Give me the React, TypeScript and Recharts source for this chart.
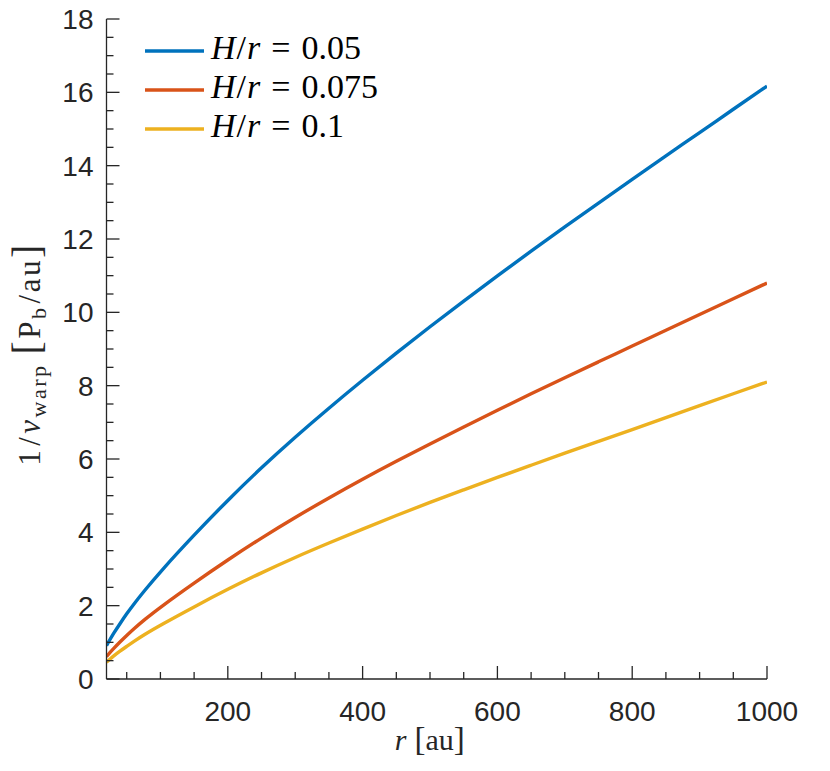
import { LineChart, Line, XAxis, YAxis, Legend } from "recharts";

// r [au]
const radius = [20, 25, 30, 40, 50, 60, 75, 100, 150, 200, 250, 300, 350, 400, 450, 500, 550, 600, 650, 700, 750, 800, 850, 900, 950, 1000];
// 1/v_warp [Pb/au]
const thin = [0.91, 1.07, 1.23, 1.51, 1.78, 2.03, 2.38, 2.93, 3.93, 4.88, 5.77, 6.6, 7.39, 8.15, 8.89, 9.61, 10.31, 11.0, 11.67, 12.33, 12.98, 13.63, 14.27, 14.9, 15.54, 16.17];
const medium = [0.61, 0.72, 0.82, 1.01, 1.19, 1.36, 1.6, 1.96, 2.62, 3.25, 3.85, 4.41, 4.94, 5.45, 5.94, 6.41, 6.87, 7.33, 7.78, 8.22, 8.65, 9.08, 9.51, 9.94, 10.37, 10.8];
const thick = [0.46, 0.54, 0.62, 0.76, 0.89, 1.02, 1.2, 1.47, 1.97, 2.45, 2.9, 3.32, 3.71, 4.09, 4.46, 4.82, 5.16, 5.5, 5.83, 6.16, 6.48, 6.8, 7.13, 7.46, 7.78, 8.1];

const aspect = ["0.05", "0.075", "0.1"];
const colors = ["#0072BD", "#D95319", "#EDB120"];

const xMajor = [200, 400, 600, 800, 1000];
const xTicks = [50, 100, 150, 200, 250, 300, 350, 400, 450, 500, 550, 600, 650, 700, 750, 800, 850, 900, 950, 1000];
const yMajor = [0, 2, 4, 6, 8, 10, 12, 14, 16, 18];
const yTicks = [
  0, 0.5, 1, 1.5, 2, 2.5, 3, 3.5, 4, 4.5, 5, 5.5, 6, 6.5, 7, 7.5, 8, 8.5, 9,
  9.5, 10, 10.5, 11, 11.5, 12, 12.5, 13, 13.5, 14, 14.5, 15, 15.5, 16, 16.5,
  17, 17.5, 18,
];

const rows = radius.map((r, i) => ({ r, a: thin[i], b: medium[i], c: thick[i] }));
const keys = ["a", "b", "c"];

const AXIS = "#262626";
const SANS = "'Liberation Sans', Arial, sans-serif";
const SERIF = "'Liberation Serif', 'Times New Roman', serif";
const MAJOR = 13;
const MINOR = 7;

const BottomTick = ({ x, y, payload }: any) => {
  const major = xMajor.includes(payload.value);
  return (
    <g>
      <line x1={x} x2={x} y1={y} y2={y - (major ? MAJOR : MINOR)} stroke={AXIS} strokeWidth={1.3} />
      {major && (
        <text x={x} y={y + 42} textAnchor="middle" fontFamily={SANS} fontSize={28} fill={AXIS}>
          {payload.value}
        </text>
      )}
    </g>
  );
};

const TopTick = ({ x, y, payload }: any) => {
  const major = xMajor.includes(payload.value);
  return <line x1={x} x2={x} y1={y} y2={y + (major ? MAJOR : MINOR)} stroke={AXIS} strokeWidth={1.3} />;
};

const LeftTick = ({ x, y, payload }: any) => {
  const major = yMajor.includes(payload.value);
  return (
    <g>
      <line x1={x} x2={x + (major ? MAJOR : MINOR)} y1={y} y2={y} stroke={AXIS} strokeWidth={1.3} />
      {major && (
        <text x={x - 13} y={y + 10} textAnchor="end" fontFamily={SANS} fontSize={28} fill={AXIS}>
          {payload.value}
        </text>
      )}
    </g>
  );
};

const RightTick = ({ x, y, payload }: any) => {
  const major = yMajor.includes(payload.value);
  return <line x1={x} x2={x - (major ? MAJOR : MINOR)} y1={y} y2={y} stroke={AXIS} strokeWidth={1.3} />;
};

const XLabel = ({ viewBox }: any) => {
  const cx = viewBox.x + viewBox.width / 2 - 7;
  return (
    <text x={cx} y={viewBox.y + 71} textAnchor="middle" fontFamily={SERIF} fontSize={30} fill={AXIS}>
      <tspan fontStyle="italic">r</tspan>
      <tspan dx={8} fontSize={33}>[</tspan>
      <tspan>au</tspan>
      <tspan fontSize={33}>]</tspan>
    </text>
  );
};

const YLabel = ({ viewBox }: any) => {
  const cx = viewBox.x - 7;
  const cy = viewBox.y + viewBox.height / 2 + 5;
  return (
    <text
      x={cx}
      y={cy}
      transform={`rotate(-90 ${cx} ${cy})`}
      textAnchor="middle"
      fontFamily={SERIF}
      fontSize={31}
      letterSpacing={2.5}
      fill={AXIS}
    >
      <tspan>1</tspan>
      <tspan dx={2}>/</tspan>
      <tspan dx={1} fontStyle="italic">v</tspan>
      <tspan fontSize={22} dy={6}>warp</tspan>
      <tspan dy={-6} dx={9} fontSize={40}>[</tspan>
      <tspan>P</tspan>
      <tspan fontSize={22} dy={6}>b</tspan>
      <tspan dy={-6} dx={2}>/au</tspan>
      <tspan fontSize={40}>]</tspan>
    </text>
  );
};

const renderLegend = ({ payload }: any) => (
  <svg width={420} height={150}>
    {(payload || []).map((entry: any, i: number) => {
      const yc = 51 + i * 39;
      const value = String(entry.value).split(" = ")[1];
      return (
        <g key={i}>
          <line x1={145} x2={204} y1={yc} y2={yc} stroke={entry.color} strokeWidth={3.4} />
          <text x={211} y={yc + 7.5} fontFamily={SERIF} fontSize={34} fill="#000">
            <tspan fontStyle="italic">H</tspan>
            <tspan dx={1}>/</tspan>
            <tspan dx={1} fontStyle="italic">r</tspan>
            <tspan dx={11}>=</tspan>
            <tspan dx={11}>{value}</tspan>
          </text>
        </g>
      );
    })}
  </svg>
);

export default function App() {
  return (
    <div style={{ width: 830, height: 771, background: "#fff" }}>
      <style>{"body{margin:0;background:#fff}"}</style>
      <LineChart width={830} height={771} data={rows} margin={{ top: 19, right: 63, bottom: 0, left: 46.5 }}>
        <XAxis
          xAxisId="bottom"
          dataKey="r"
          type="number"
          domain={[20, 1000]}
          allowDataOverflow
          ticks={xTicks}
          interval={0}
          height={92}
          tickSize={0}
          tickMargin={0}
          tick={<BottomTick />}
          axisLine={{ stroke: AXIS, strokeWidth: 1.3 }}
          label={<XLabel />}
        />
        <XAxis
          xAxisId="top"
          orientation="top"
          dataKey="r"
          type="number"
          domain={[20, 1000]}
          allowDataOverflow
          ticks={xTicks}
          interval={0}
          height={0}
          tickSize={0}
          tickMargin={0}
          tick={<TopTick />}
          axisLine={{ stroke: AXIS, strokeWidth: 1.3 }}
        />
        <YAxis
          yAxisId="left"
          type="number"
          domain={[0, 18]}
          allowDataOverflow
          ticks={yTicks}
          interval={0}
          width={60}
          tickSize={0}
          tickMargin={0}
          tick={<LeftTick />}
          axisLine={{ stroke: AXIS, strokeWidth: 1.3 }}
          label={<YLabel />}
        />
        <YAxis
          yAxisId="right"
          orientation="right"
          type="number"
          domain={[0, 18]}
          allowDataOverflow
          ticks={yTicks}
          interval={0}
          width={0}
          tickSize={0}
          tickMargin={0}
          tick={<RightTick />}
          axisLine={{ stroke: AXIS, strokeWidth: 1.3 }}
        />
        <Legend
          layout="vertical"
          align="center"
          verticalAlign="middle"
          wrapperStyle={{ left: 0, top: 0, width: 420, height: 150 }}
          content={renderLegend}
        />
        {keys.map((k, i) => (
          <Line
            key={k}
            xAxisId="bottom"
            yAxisId="left"
            dataKey={k}
            name={`H/r = ${aspect[i]}`}
            type="basis"
            stroke={colors[i]}
            strokeWidth={3.4}
            dot={false}
            activeDot={false}
            isAnimationActive={false}
          />
        ))}
      </LineChart>
    </div>
  );
}
